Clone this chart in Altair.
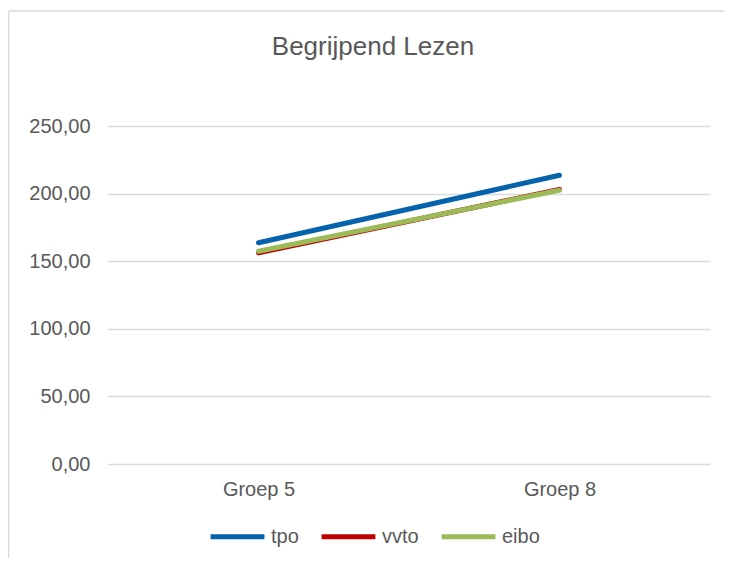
import altair as alt
import pandas as pd

categories = ["Groep 5", "Groep 8"]
series = ["tpo", "vvto", "eibo"]
tpo = [163.6, 213.6]
vvto = [156.2, 203.1]
eibo = [157.4, 202.5]
colors = ["#0563AB", "#C00000", "#9BBB59"]
y_ticks = [0, 50, 100, 150, 200, 250]

rows = []
for name, vals in zip(series, [tpo, vvto, eibo]):
    for cat, v in zip(categories, vals):
        rows.append({"groep": cat, "reeks": name, "waarde": v})
df = pd.DataFrame(rows)

FONT = "Liberation Sans"
TXT = "#595959"

lines = alt.Chart(df).mark_line(strokeWidth=5, strokeCap="round").encode(
    x=alt.X("groep:N", sort=categories, title=None,
            scale=alt.Scale(type="point", padding=0.5),
            axis=alt.Axis(labelAngle=0, ticks=False, domain=False, grid=False,
                          labelFontSize=20, labelColor=TXT, labelFont=FONT,
                          labelPadding=15)),
    y=alt.Y("waarde:Q", title=None,
            scale=alt.Scale(domain=[0, 250], nice=False),
            axis=alt.Axis(values=y_ticks, ticks=False, domain=False,
                          labelExpr="replace(format(datum.value, '.2f'), '.', ',')",
                          labelFontSize=20, labelColor=TXT, labelFont=FONT,
                          labelPadding=18, gridColor="#D9D9D9", gridWidth=1.5)),
    color=alt.Color("reeks:N", sort=series,
                    scale=alt.Scale(domain=series, range=colors),
                    legend=alt.Legend(title=None, orient="none", direction="horizontal",
                                      legendX=100, legendY=381,
                                      symbolType="stroke", symbolSize=2900,
                                      symbolStrokeWidth=5, labelFontSize=20,
                                      labelColor=TXT, labelFont=FONT,
                                      labelOffset=4, columnPadding=12)),
    order=alt.Order("reeks_order:Q"),
).transform_calculate(
    reeks_order="indexof(['tpo','vvto','eibo'], datum.reeks)"
)

frame_src = pd.DataFrame({"a": [0]})
frame_left = alt.Chart(frame_src).mark_rule(stroke="#D9D9D9", strokeWidth=1.5).encode(
    x=alt.value(-99.5), y=alt.value(-115), y2=alt.value(432)
)
frame_top = alt.Chart(frame_src).mark_rule(stroke="#D9D9D9", strokeWidth=1.5).encode(
    x=alt.value(-99.5), x2=alt.value(616), y=alt.value(-115)
)

chart = alt.layer(frame_left, frame_top, lines).properties(
    width=602, height=338,
    padding={"left": 100, "top": 118, "right": 15, "bottom": 94},
    autosize=alt.AutoSizeParams(type="none"),
    title=alt.TitleParams("Begrijpend Lezen", fontSize=26, font=FONT, color=TXT,
                          fontWeight="normal", anchor="middle", frame="group",
                          dx=-36, offset=-50),
).configure_view(stroke=None)

chart.save("out.html", embed_options={"renderer": "svg", "actions": False})
